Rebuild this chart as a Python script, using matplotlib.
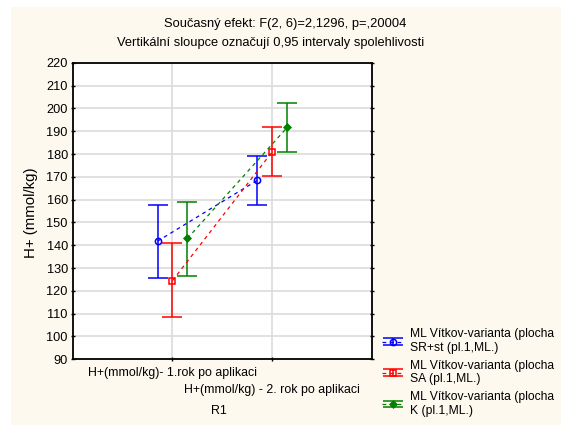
import matplotlib
matplotlib.use("Agg")
import matplotlib.pyplot as plt
from matplotlib.patches import Rectangle
from matplotlib.legend_handler import HandlerErrorbar

plt.rcParams['font.family'] = ['Liberation Sans', 'DejaVu Sans']

# data
categories = ["H+(mmol/kg)- 1.rok po aplikaci", "H+(mmol/kg) - 2. rok po aplikaci"]
series_names = ["ML Vítkov-varianta (plocha\nSR+st (pl.1,ML.)",
                "ML Vítkov-varianta (plocha\nSA (pl.1,ML.)",
                "ML Vítkov-varianta (plocha\nK (pl.1,ML.)"]
blue_mean = [141.8, 168.5]
blue_low = [125.5, 157.5]
blue_high = [157.8, 179.0]
red_mean = [124.5, 181.0]
red_low = [108.5, 170.2]
red_high = [140.8, 192.0]
green_mean = [143.0, 191.7]
green_low = [126.5, 180.8]
green_high = [158.8, 202.5]

colors = ["#0000ff", "#ff0000", "#008000"]
markers = ["o", "s", "D"]
marker_sizes = [4.5, 4.5, 3.5]
offsets = [-0.15, 0.0, 0.15]

fig = plt.figure(figsize=(5.61, 4.25), dpi=100, facecolor="white")
fig.patches.append(Rectangle((11 / 561, 0), 1, 1 - 7 / 425, transform=fig.transFigure,
                             facecolor="#fdf9ef", edgecolor="none", zorder=-10))
ax = fig.add_axes([0.1296, 0.1546, 0.5335, 0.6974])
ax.set_facecolor("white")

all_means = [blue_mean, red_mean, green_mean]
all_low = [blue_low, red_low, green_low]
all_high = [blue_high, red_high, green_high]
xs = [1, 2]

handles = []
for i in range(3):
    px = [x + offsets[i] for x in xs]
    mean = all_means[i]
    yerr = [[m - lo for m, lo in zip(mean, all_low[i])],
            [hi - m for m, hi in zip(mean, all_high[i])]]
    h = ax.errorbar(px, mean, yerr=yerr, color=colors[i], linestyle=(0, (3, 3)),
                    linewidth=0.9, elinewidth=1.1, capsize=7, capthick=1.1,
                    marker=markers[i], markersize=marker_sizes[i], markeredgewidth=1.1,
                    markerfacecolor=colors[i] if markers[i] == "D" else "none",
                    markeredgecolor=colors[i], zorder=4)
    handles.append(h)

ax.set_xlim(0, 3)
ax.set_ylim(90, 220)
ax.set_yticks(range(90, 221, 10))
ax.set_xticks([1, 2])
ax.set_xticklabels([])
ax.grid(True, color="#dcdcdc", linewidth=1.2, zorder=0)
ax.set_axisbelow(True)
ax.tick_params(axis="both", direction="inout", length=3, width=1, labelsize=9.2,
               colors="black", right=True, top=False, pad=2)
for s in ax.spines.values():
    s.set_linewidth(1.3)
    s.set_color("black")

for j, lab in enumerate(categories):
    ax.text(xs[j], -0.045 - 0.058 * j, lab, transform=ax.get_xaxis_transform(),
            ha="center", va="center", fontsize=8.9)
ax.text(1.47, -0.175, "R1", transform=ax.get_xaxis_transform(), ha="center", va="center",
        fontsize=8.9)
fig.text(31 / 561, 1 - 213 / 425, "H+ (mmol/kg)", rotation=90, ha="center", va="center",
         fontsize=10.8)

fig.text(285 / 561, 1 - 24 / 425, "Současný efekt: F(2, 6)=2,1296, p=,20004",
         ha="center", va="center", fontsize=9.3)
fig.text(271 / 561, 1 - 43 / 425, "Vertikální sloupce označují 0,95 intervaly spolehlivosti",
         ha="center", va="center", fontsize=9.3)

fig.legend(handles, series_names, loc="upper left", bbox_to_anchor=(374 / 561, 1 - 320 / 425),
           frameon=False, fontsize=8.7, handlelength=1.8, handletextpad=0.5,
           labelspacing=0.45, borderpad=0.2,
           handler_map={type(handles[0]): HandlerErrorbar(yerr_size=0.28)})

fig.savefig("out.png", dpi=100, facecolor=fig.get_facecolor())
